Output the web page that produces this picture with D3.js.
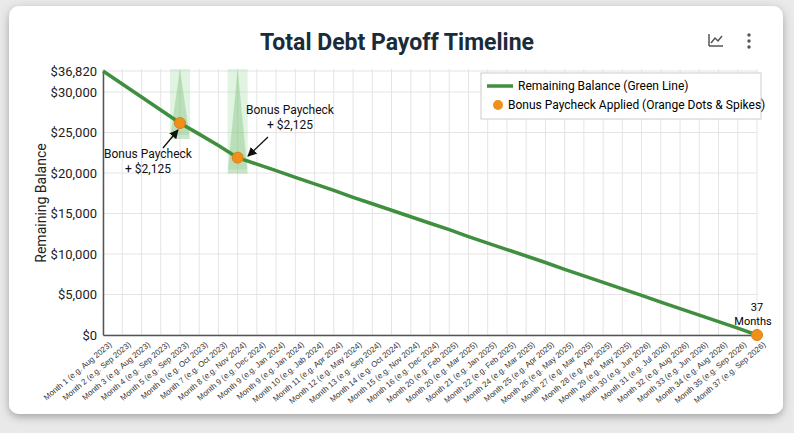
<!DOCTYPE html>
<html><head><meta charset="utf-8">
<script src="https://cdn.jsdelivr.net/npm/d3@7"></script>
<style>
body{margin:0;background:#e9e9e9;font-family:Roboto,"Liberation Sans",sans-serif;}
</style></head><body>
<svg id="chart" width="794" height="433"></svg>
<script>
const months = [
  "Month 1 (e.g. Aug 2023)","Month 2 (e.g. Sep 2023)","Month 3 (e.g. Aug 2023)","Month 4 (e.g. Sep 2023)",
  "Month 5 (e.g. Sep 2023)","Month 6 (e.g. Oct 2023)","Month 7 (e.g. Oct 2023)","Month 8 (e.g. Nov 2024)",
  "Month 9 (e.g. Dec 2024)","Month 9 (e.g. Jan 2024)","Month 9 (e.g. Jan 2024)","Month 10 (e.g. Jab 2024)",
  "Month 11 (e.g. Apr 2024)","Month 12 (e.g. May 2024)","Month 13 (e.g. Sep 2024)","Month 14 (e.g. Oct 2024)",
  "Month 15 (e.g. Nov 2024)","Month 16 (e.g. Dec 2024)","Month 20 (e.g. Feb 2025)","Month 20 (e.g. Mar 2025)",
  "Month 21 (e.g. Jan 2025)","Month 22 (e.g. Feb 2025)","Month 24 (e.g. Mar 2025)","Month 25 (e.g. Apr 2025)",
  "Month 26 (e.g. May 2025)","Month 27 (e.g. Mar 2025)","Month 28 (e.g. Apr 2025)","Month 29 (e.g. May 2025)",
  "Month 30 (e.g. Jun 2026)","Month 31 (e.g. Jul 2026)","Month 32 (e.g. Aug 2026)","Month 33 (e.g. Jun 2026)",
  "Month 34 (e.g. Aug 2026)","Month 35 (e.g. Sep 2026)","Month 37 (e.g. Sep 2026)"
];
const balance = [36820,32600,29380,27780,26170,24800,23400,21900,21100,20300,19450,18650,17850,17000,
  16200,15400,14600,13800,13000,12150,11350,10550,9750,8950,8100,7300,6500,5700,4900,4050,3250,2450,1650,850,0];
const bonusIdx = [4, 7];
const bonusLabels = ["Bonus Paycheck\n+ $2,125", "Bonus Paycheck\n+ $2,125"];
const yTicks = [0,5000,10000,15000,20000,25000,30000,36820];

const svg = d3.select("#chart");
const defs = svg.append("defs");
const f = defs.append("filter").attr("id","sh").attr("x","-5%").attr("y","-5%").attr("width","110%").attr("height","115%");
f.append("feDropShadow").attr("dx",0).attr("dy",3).attr("stdDeviation",4).attr("flood-opacity",0.3);
svg.append("rect").attr("x",9).attr("y",6).attr("width",774).attr("height",408).attr("rx",10)
  .attr("fill","#fff").attr("filter","url(#sh)");

const L = 103, R = 757, T = 71, B = 335;
const x = d3.scalePoint().domain(d3.range(months.length)).range([L, R]);
const y = d3.scaleLinear().domain([0, 30000, 36820]).range([B, 92, T]);

// grid
const g = svg.append("g");
g.selectAll(".vg").data(d3.range(months.length)).join("line")
  .attr("x1",d=>x(d)).attr("x2",d=>x(d)).attr("y1",T-2).attr("y2",B).attr("stroke","#e4e4e4");
g.selectAll(".hg").data(yTicks).join("line")
  .attr("x1",L).attr("x2",R).attr("y1",d=>y(d)).attr("y2",d=>y(d)).attr("stroke","#e4e4e4");

// spikes
bonusIdx.forEach(i => {
  const cx = x(i), w = 10;
  g.append("rect").attr("x",cx-w).attr("y",T-2).attr("width",2*w).attr("height",y(balance[i])-T+14)
    .attr("fill","#a8dca8").attr("opacity",0.35);
  g.append("path").attr("d",`M${cx-w},${y(balance[i])+16}L${cx},${T-2}L${cx+w},${y(balance[i])+16}Z`)
    .attr("fill","#7cc07c").attr("opacity",0.4);
});

// axes
const ya = svg.append("g").attr("transform",`translate(${L},0)`)
  .call(d3.axisLeft(y).tickValues(yTicks).tickSize(0).tickPadding(6).tickFormat(d=>"$"+d3.format(",")(d)));
ya.select(".domain").attr("stroke","#555").attr("stroke-width",1.5);
ya.selectAll("text").attr("font-size",13).attr("fill","#222").attr("font-family","Roboto");
const xa = svg.append("g").attr("transform",`translate(0,${B})`)
  .call(d3.axisBottom(x).tickSize(0).tickFormat(d=>months[d]));
xa.select(".domain").attr("stroke","#555").attr("stroke-width",1.5);
xa.selectAll("text").attr("font-size",8).attr("fill","#333").attr("text-anchor","end")
  .attr("transform","translate(5,6) rotate(-40)").attr("dy","0.35em");

svg.append("text").attr("transform","translate(46,203) rotate(-90)").attr("text-anchor","middle")
  .attr("font-size",14).attr("fill","#222").text("Remaining Balance");

// line
svg.append("path").datum(balance)
  .attr("d", d3.line().x((d,i)=>x(i)).y(d=>y(d)))
  .attr("fill","none").attr("stroke","#3f8f3f").attr("stroke-width",3.5);

// dots
const dots = bonusIdx.concat([months.length-1]);
svg.selectAll(".dot").data(dots).join("circle")
  .attr("cx",i=>x(i)).attr("cy",i=>y(balance[i])).attr("r",5.5)
  .attr("fill","#f0901a").attr("stroke","#e07e10");

// annotations
svg.append("defs").append("marker").attr("id","ar").attr("viewBox","0 0 10 10").attr("refX",9).attr("refY",5)
  .attr("markerWidth",7).attr("markerHeight",7).attr("orient","auto")
  .append("path").attr("d","M0,0L10,5L0,10Z").attr("fill","#111");
const ann = [
  {i:4, tx:148, ty:158, ax1:163, ay1:148, ax2:178, ay2:130},
  {i:7, tx:290, ty:114, ax1:268, ay1:137, ax2:248, ay2:156}
];
ann.forEach((a,k) => {
  svg.append("line").attr("x1",a.ax1).attr("y1",a.ay1).attr("x2",a.ax2).attr("y2",a.ay2)
    .attr("stroke","#111").attr("stroke-width",1.3).attr("marker-end","url(#ar)");
  bonusLabels[k].split("\n").forEach((s,j) =>
    svg.append("text").attr("x",a.tx).attr("y",a.ty+j*15).attr("text-anchor","middle")
      .attr("font-size",12).attr("fill","#111").text(s));
});
svg.append("text").attr("x",R).attr("y",311).attr("text-anchor","middle").attr("font-size",11).text("37");
svg.append("text").attr("x",R-4).attr("y",325).attr("text-anchor","middle").attr("font-size",11).text("Months");

// title & icons
svg.append("text").attr("x",397).attr("y",50).attr("text-anchor","middle").attr("font-size",23)
  .attr("font-weight","bold").attr("fill","#1a2b3a").text("Total Debt Payoff Timeline");
svg.append("path").attr("d","M709,46L709,34M709,46L723,46M711,43L715,38L718,41L722,36")
  .attr("fill","none").attr("stroke","#555").attr("stroke-width",1.5);
[35,41,47].forEach(cy => svg.append("circle").attr("cx",749).attr("cy",cy).attr("r",1.7).attr("fill","#555"));

// legend
const lg = svg.append("g");
lg.append("rect").attr("x",481).attr("y",73).attr("width",280).attr("height",46).attr("fill","#fff").attr("stroke","#ccc");
lg.append("line").attr("x1",487).attr("x2",513).attr("y1",86).attr("y2",86).attr("stroke","#3f8f3f").attr("stroke-width",3.5);
lg.append("text").attr("x",518).attr("y",90).attr("font-size",12).text("Remaining Balance (Green Line)");
lg.append("circle").attr("cx",498).attr("cy",105).attr("r",5).attr("fill","#f0901a");
lg.append("text").attr("x",508).attr("y",109).attr("font-size",12).text("Bonus Paycheck Applied (Orange Dots & Spikes)");
</script></body></html>
